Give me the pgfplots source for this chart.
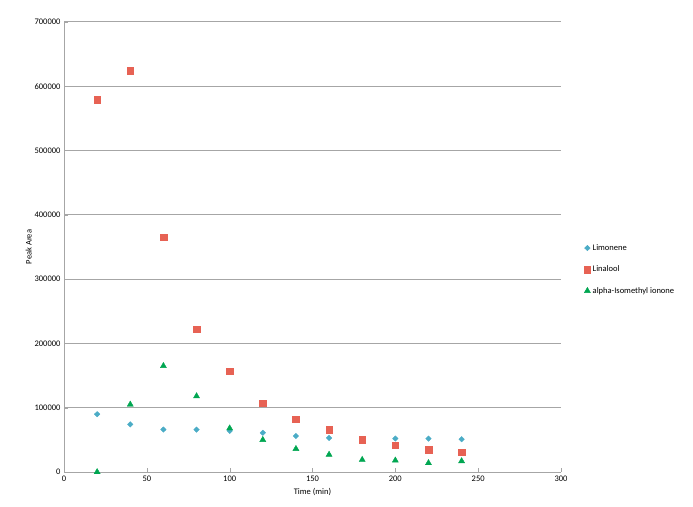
\documentclass[border=0pt]{standalone}
\usepackage{pgfplots}
\pgfplotsset{compat=1.18}
\usepackage{fontspec}
\setmainfont{Carlito}
\definecolor{limc}{RGB}{75,172,198}
\definecolor{linc}{RGB}{231,98,84}
\definecolor{isoc}{RGB}{0,166,81}
\begin{document}
\begin{tikzpicture}
\path[use as bounding box] (0,0) rectangle (693pt,506pt);
\begin{axis}[at={(64pt,34pt)},anchor=south west,
 width=497pt,height=450pt,scale only axis,
 xmin=0,xmax=300,ymin=0,ymax=700000,
 xtick={0,50,...,300},ytick={0,100000,...,700000},
 scaled y ticks=false,
 yticklabel style={/pgf/number format/fixed,/pgf/number format/1000 sep={}},
 /pgf/number format/assume math mode=true,
 ymajorgrids,grid style={gray!70,line width=1pt},
 axis x line*=bottom, axis y line*=left,
 axis line style={gray!70},
 tick style={gray!70},
 major tick length=4pt,
 ticklabel style={font=\fontsize{8.5}{10}\selectfont},
 xlabel={Time (min)},ylabel={Peak Area},
 label style={font=\fontsize{8.5}{10}\selectfont},
 ylabel style={yshift=-4pt},
 legend style={at={(1.04,0.45)},anchor=west,draw=none,font=\fontsize{8.5}{10}\selectfont,row sep=10pt},
 legend cell align=left,
 clip=false]
\addplot[only marks,mark=diamond*,mark size=3.2pt,mark options={xscale=1.15,yscale=0.85},color=limc] coordinates {(20,90000)(40,74000)(60,66000)(80,66000)(100,64000)(120,61000)(140,56000)(160,53000)(200,52000)(220,52000)(240,51000)};
\addlegendentry{Limonene}
\addplot[only marks,mark=square*,mark size=3.3pt,color=linc] coordinates {(20,579000)(40,624000)(60,365000)(80,222000)(100,157000)(120,107000)(140,82000)(160,66000)(180,50000)(200,42000)(220,35000)(240,31000)};
\addlegendentry{Linalool}
\addplot[only marks,mark=triangle*,mark size=3.5pt,color=isoc] coordinates {(20,0)(40,105000)(60,165000)(80,118000)(100,68000)(120,50000)(140,36000)(160,27000)(180,19000)(200,18000)(220,14000)(240,17000)};
\addlegendentry{alpha-Isomethyl ionone}
\end{axis}
\end{tikzpicture}
\end{document}
